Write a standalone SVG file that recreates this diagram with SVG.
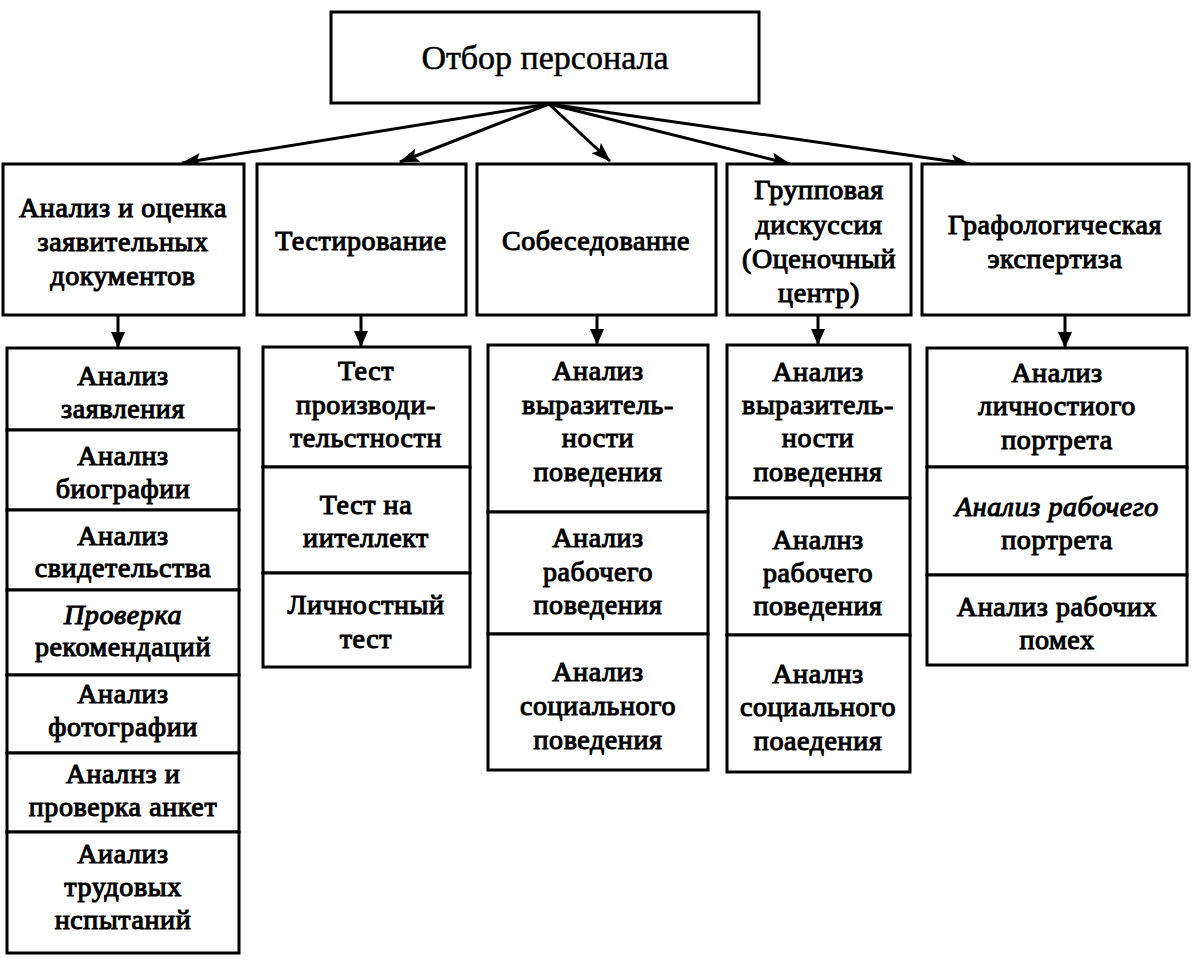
<svg xmlns="http://www.w3.org/2000/svg" width="1196" height="960" viewBox="0 0 1196 960">
<style>
.box{fill:#fff;stroke:#000;stroke-width:3}
.t{font-family:"Liberation Serif","DejaVu Serif",serif;font-weight:normal;font-size:28px;text-anchor:middle;fill:#000;stroke:#000;stroke-width:1.1;letter-spacing:0.6px}
.title{font-family:"Liberation Serif","DejaVu Serif",serif;font-size:34px;text-anchor:middle;fill:#000;stroke:#000;stroke-width:0.5}
.i{font-style:italic}
.c{stroke:#000;stroke-width:3;fill:none}
</style>
<defs>
<marker id="ah" viewBox="0 0 20 14" refX="19" refY="7" markerWidth="20" markerHeight="14" markerUnits="userSpaceOnUse" orient="auto">
<path d="M0,0 L20,7 L0,14 L4,7 Z" fill="#000"/>
</marker>
<marker id="ad" viewBox="0 0 16 14" refX="15" refY="7" markerWidth="16" markerHeight="14" markerUnits="userSpaceOnUse" orient="auto">
<path d="M0,0 L16,7 L0,14 Z" fill="#000"/>
</marker>
</defs>
<rect width="1196" height="960" fill="#fff"/>

<g id="connectors">
<line class="c" x1="549" y1="104" x2="182" y2="163" marker-end="url(#ah)"/>
<line class="c" x1="549" y1="104" x2="400" y2="162" marker-end="url(#ah)"/>
<line class="c" x1="549" y1="104" x2="610" y2="161" marker-end="url(#ah)"/>
<line class="c" x1="549" y1="104" x2="790" y2="164" marker-end="url(#ah)"/>
<line class="c" x1="549" y1="104" x2="970" y2="164" marker-end="url(#ah)"/>
<line class="c" x1="118" y1="315" x2="118" y2="347" marker-end="url(#ad)"/>
<line class="c" x1="361" y1="315" x2="361" y2="346" marker-end="url(#ad)"/>
<line class="c" x1="597" y1="315" x2="597" y2="344" marker-end="url(#ad)"/>
<line class="c" x1="818" y1="315" x2="818" y2="344" marker-end="url(#ad)"/>
<line class="c" x1="1065" y1="315" x2="1065" y2="347" marker-end="url(#ad)"/>
</g>

<g id="root"><rect class="box" x="331" y="12" width="428" height="91"/><text class="title" x="545" y="69">Отбор персонала</text></g>

<g id="n1"><rect class="box" x="3" y="164" width="241" height="151"/>
<text class="t" x="123" y="217">Анализ и оценка</text><text class="t" x="123" y="251">заявительных</text><text class="t" x="123" y="285">документов</text></g>
<g id="n2"><rect class="box" x="257" y="164" width="209" height="151"/><text class="t" x="361" y="250">Тестирование</text></g>
<g id="n3"><rect class="box" x="477" y="164" width="239" height="151"/><text class="t" x="596" y="250">Собеседованне</text></g>
<g id="n4"><rect class="box" x="727" y="164" width="184" height="151"/>
<text class="t" x="819" y="199">Групповая</text><text class="t" x="819" y="234">дискуссия</text><text class="t" x="819" y="268">(Оценочный</text><text class="t" x="819" y="302">центр)</text></g>
<g id="n5"><rect class="box" x="922" y="164" width="267" height="151"/>
<text class="t" x="1055" y="234">Графологическая</text><text class="t" x="1055" y="268">экспертиза</text></g>

<g id="a1"><rect class="box" x="7" y="348" width="232" height="82"/><text class="t" x="123" y="385">Анализ</text><text class="t" x="123" y="418">заявления</text></g>
<g id="a2"><rect class="box" x="7" y="430" width="232" height="80"/><text class="t" x="123" y="465">Аналнз</text><text class="t" x="123" y="498">биографии</text></g>
<g id="a3"><rect class="box" x="7" y="510" width="232" height="80"/><text class="t" x="123" y="545">Анализ</text><text class="t" x="123" y="577">свидетельства</text></g>
<g id="a4"><rect class="box" x="7" y="590" width="232" height="85"/><text class="t i" x="123" y="624">Проверка</text><text class="t" x="123" y="656">рекомендаций</text></g>
<g id="a5"><rect class="box" x="7" y="675" width="232" height="78"/><text class="t" x="123" y="703">Анализ</text><text class="t" x="123" y="736">фотографии</text></g>
<g id="a6"><rect class="box" x="7" y="753" width="232" height="79"/><text class="t" x="123" y="783">Аналнз и</text><text class="t" x="123" y="816">проверка анкет</text></g>
<g id="a7"><rect class="box" x="7" y="832" width="232" height="121"/><text class="t" x="123" y="863">Аиализ</text><text class="t" x="123" y="896">трудовых</text><text class="t" x="123" y="929">нспытаний</text></g>

<g id="b1"><rect class="box" x="263" y="347" width="207" height="120"/><text class="t" x="366" y="380">Тест</text><text class="t" x="366" y="414">производи-</text><text class="t" x="366" y="447">тельстностн</text></g>
<g id="b2"><rect class="box" x="263" y="467" width="207" height="106"/><text class="t" x="366" y="514">Тест на</text><text class="t" x="366" y="547">иителлект</text></g>
<g id="b3"><rect class="box" x="263" y="573" width="207" height="94"/><text class="t" x="366" y="614">Личностный</text><text class="t" x="366" y="648">тест</text></g>

<g id="c1"><rect class="box" x="488" y="345" width="220" height="167"/><text class="t" x="598" y="380">Анализ</text><text class="t" x="598" y="414">выразитель-</text><text class="t" x="598" y="447">ности</text><text class="t" x="598" y="481">поведения</text></g>
<g id="c2"><rect class="box" x="488" y="512" width="220" height="122"/><text class="t" x="598" y="547">Анализ</text><text class="t" x="598" y="581">рабочего</text><text class="t" x="598" y="614">поведения</text></g>
<g id="c3"><rect class="box" x="488" y="634" width="220" height="136"/><text class="t" x="598" y="681">Анализ</text><text class="t" x="598" y="715">социального</text><text class="t" x="598" y="749">поведения</text></g>

<g id="d1"><rect class="box" x="727" y="345" width="183" height="153"/><text class="t" x="818" y="381">Анализ</text><text class="t" x="818" y="414">выразитель-</text><text class="t" x="818" y="447">ности</text><text class="t" x="818" y="481">поведення</text></g>
<g id="d2"><rect class="box" x="727" y="498" width="183" height="137"/><text class="t" x="818" y="549">Аналнз</text><text class="t" x="818" y="582">рабочего</text><text class="t" x="818" y="615">поведения</text></g>
<g id="d3"><rect class="box" x="727" y="635" width="183" height="137"/><text class="t" x="818" y="683">Аналнз</text><text class="t" x="818" y="716">социального</text><text class="t" x="818" y="750">поаедения</text></g>

<g id="e1"><rect class="box" x="927" y="348" width="260" height="119"/><text class="t" x="1057" y="382">Анализ</text><text class="t" x="1057" y="415">личностиого</text><text class="t" x="1057" y="449">портрета</text></g>
<g id="e2"><rect class="box" x="927" y="467" width="260" height="108"/><text class="t i" x="1057" y="516">Анализ рабочего</text><text class="t" x="1057" y="549">портрета</text></g>
<g id="e3"><rect class="box" x="927" y="575" width="260" height="90"/><text class="t" x="1057" y="616">Анализ рабочих</text><text class="t" x="1057" y="649">помех</text></g>
</svg>
